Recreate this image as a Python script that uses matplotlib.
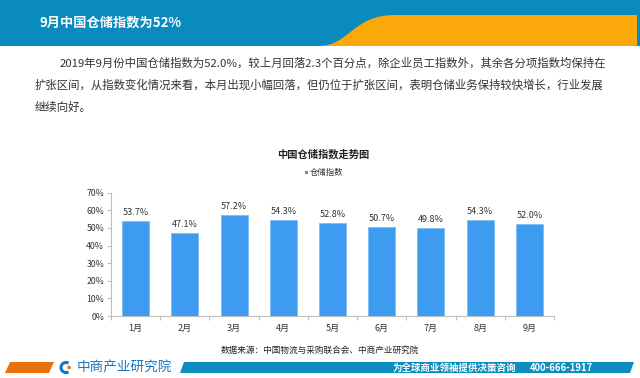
import matplotlib
matplotlib.use("Agg")
import matplotlib.pyplot as plt
from matplotlib.path import Path
from matplotlib.patches import PathPatch, Polygon, Rectangle, Arc, Circle

plt.rcParams["font.family"] = ["Noto Sans CJK SC", "DejaVu Sans"]

# data
months = ["1月", "2月", "3月", "4月", "5月", "6月", "7月", "8月", "9月"]
index_values = [53.7, 47.1, 57.2, 54.3, 52.8, 50.7, 49.8, 54.3, 52.0]
y_ticks = [0, 10, 20, 30, 40, 50, 60, 70]

header_title = "9月中国仓储指数为52%"
body_lines = [
    "2019年9月份中国仓储指数为52.0%，较上月回落2.3个百分点，除企业员工指数外，其余各分项指数均保持在",
    "扩张区间，从指数变化情况来看，本月出现小幅回落，但仍位于扩张区间，表明仓储业务保持较快增长，行业发展",
    "继续向好。",
]
chart_title = "中国仓储指数走势图"
legend_label = "仓储指数"
source_text = "数据来源：中国物流与采购联合会、中商产业研究院"

BLUE_HEAD = "#0a8bbe"
ORANGE = "#fca70a"
BAR = "#3d9cf0"
AXIS = "#bfbfbf"

fig = plt.figure(figsize=(6.4, 3.78), dpi=100)

# background layer in pixel coords
bg = fig.add_axes([0, 0, 1, 1])
bg.set_xlim(0, 640)
bg.set_ylim(378, 0)
bg.axis("off")

# header band with orange wave
bg.add_patch(Rectangle((0, 0), 640, 46, color=BLUE_HEAD, lw=0))
wave = Path(
    [(318, 46), (350, 46), (352, 15), (395, 15), (637, 15), (637, 46), (318, 46)],
    [Path.MOVETO, Path.CURVE4, Path.CURVE4, Path.CURVE4, Path.LINETO, Path.LINETO, Path.CLOSEPOLY],
)
bg.add_patch(PathPatch(wave, facecolor=ORANGE, lw=0))
bg.text(40, 23, header_title, color="white", fontsize=9.5, fontweight="bold", va="center", ha="left")

# paragraph
bg.text(60, 63, body_lines[0], fontsize=8.2, color="#333333", va="center", ha="left")
bg.text(35, 85, body_lines[1], fontsize=8.2, color="#333333", va="center", ha="left")
bg.text(35, 107, body_lines[2], fontsize=8.2, color="#333333", va="center", ha="left")

# chart title + legend
bg.text(323, 154, chart_title, fontsize=7.4, fontweight="bold", color="#222222", ha="center", va="center")
bg.add_patch(Rectangle((304.5, 170.5), 3, 3, color=BAR, lw=0))
bg.text(310, 172, legend_label, fontsize=6, color="#333333", ha="left", va="center")

# source
bg.text(320, 350, source_text, fontsize=6.2, color="#222222", ha="center", va="center")

# footer
bg.add_patch(Polygon([(10, 362), (54, 362), (49, 373), (5, 373)], closed=True, color="#e8700f", lw=0))
bg.add_patch(Polygon([(184, 362), (634, 362), (630, 373), (180, 373)], closed=True, color="#0e8dc0", lw=0))
bg.add_patch(Arc((66, 367.5), 10, 10, theta1=60, theta2=300, color="#1b76bc", lw=2.2))
bg.add_patch(Circle((69, 367.5), 1.8, color="#e8700f", lw=0))
bg.text(77, 367.5, "中商产业研究院", fontsize=9.8, color="#1b76bc", ha="left", va="center")
bg.text(393, 368, "为全球商业领袖提供决策咨询", fontsize=6.8, fontweight="bold", color="white", ha="left", va="center")
bg.text(530, 368, "400-666-1917", fontsize=6.8, fontweight="bold", color="white", ha="left", va="center")

# bar chart
ax = fig.add_axes([111 / 640, 1 - 316 / 378, (554 - 111) / 640, (316 - 192.7) / 378])
ax.patch.set_alpha(0)
x = range(len(months))
bars = ax.bar(x, index_values, width=0.55, color=BAR, edgecolor="#7fbdf5", linewidth=0.6)
for b, v in zip(bars, index_values):
    ax.annotate(f"{v:.1f}%", (b.get_x() + b.get_width() / 2, v), xytext=(0, 3),
                textcoords="offset points", ha="center", va="bottom", fontsize=6.5, color="#333333")

ax.set_xlim(-0.5, len(months) - 0.5)
ax.set_ylim(0, 70)
ax.set_yticks(y_ticks)
ax.set_yticklabels([f"{t}%" for t in y_ticks], fontsize=6.3, color="#333333")
ax.set_xticks(list(x))
ax.set_xticklabels(months, fontsize=6.5, color="#333333")
ax.set_xticks([i + 0.5 for i in range(-1, len(months))], minor=True)
ax.tick_params(axis="x", which="major", length=0, pad=6)
ax.tick_params(axis="x", which="minor", length=3, color=AXIS, width=0.8)
ax.tick_params(axis="y", length=3, color=AXIS, width=0.8, pad=2)
for side in ["top", "right"]:
    ax.spines[side].set_visible(False)
for side in ["left", "bottom"]:
    ax.spines[side].set_color(AXIS)
    ax.spines[side].set_linewidth(0.8)

fig.savefig("out.png", dpi=100)
